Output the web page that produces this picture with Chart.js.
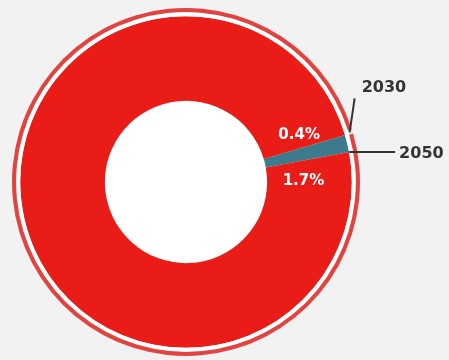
<!DOCTYPE html>
<html>
<head>
<meta charset="utf-8">
<script src="https://cdn.jsdelivr.net/npm/chart.js@4/dist/chart.umd.min.js"></script>
<style>
    html, body { margin: 0; padding: 0; background: #f2f2f2; }
    #wrap { width: 449px; height: 360px; position: relative; }
</style>
</head>
<body>
<div id="wrap"><canvas id="chart"></canvas></div>
<script>
// share of each year, rest of the ring is the remainder
const years = ["2030", "2050"];
const share2030 = [0.4, 99.6];
const share2050 = [1.7, 98.3];
const percentLabels = ["0.4%", "1.7%"];

const RED = "#ea1c17";
const TEAL = "#3c7b8e";
const PALE = "#d3eaf1";

// white hole + year/percent labels
const ringLabels = {
    id: "ringLabels",
    beforeDatasetsDraw(chart) {
        const arc = chart.getDatasetMeta(2).data[0];
        const ctx = chart.ctx;
        ctx.save();
        ctx.fillStyle = "#ffffff";
        ctx.beginPath();
        ctx.arc(arc.x, arc.y, arc.innerRadius, 0, Math.PI * 2);
        ctx.fill();
        ctx.restore();
    },
    afterDatasetsDraw(chart) {
        const ctx = chart.ctx;
        const outer = chart.getDatasetMeta(0).data[0];
        const inner = chart.getDatasetMeta(2).data[0];
        const cx = inner.x, cy = inner.y;
        const midR = (inner.innerRadius + inner.outerRadius) / 2;
        const deg = Math.PI / 180;

        ctx.save();
        ctx.font = "bold 15px 'DejaVu Sans'";
        ctx.fillStyle = "#ffffff";
        ctx.textAlign = "center";
        ctx.textBaseline = "middle";
        let a = inner.startAngle - 6 * deg;
        ctx.fillText(percentLabels[0], cx + (midR - 1) * Math.cos(a), cy + (midR - 1) * Math.sin(a));
        a = inner.endAngle + 10 * deg;
        ctx.fillText(percentLabels[1], cx + (midR - 6) * Math.cos(a), cy + (midR - 6) * Math.sin(a));

        // leader lines
        ctx.strokeStyle = "#333333";
        ctx.lineWidth = 2;
        const oa = (outer.startAngle + outer.endAngle) / 2;
        const ox = cx + (outer.outerRadius - 3) * Math.cos(oa);
        const oy = cy + (outer.outerRadius - 3) * Math.sin(oa);
        ctx.beginPath();
        ctx.moveTo(ox, oy);
        ctx.lineTo(ox + 5, oy - 34);
        ctx.stroke();

        const ix = cx + inner.outerRadius * Math.cos(inner.endAngle);
        const iy = cy + inner.outerRadius * Math.sin(inner.endAngle);
        ctx.beginPath();
        ctx.moveTo(ix, iy);
        ctx.lineTo(ix + 46, iy);
        ctx.stroke();

        ctx.font = "bold 16px 'DejaVu Sans'";
        ctx.fillStyle = "#333333";
        ctx.textAlign = "left";
        ctx.fillText(years[0], ox + 12, oy - 45);
        ctx.fillText(years[1], ix + 50, iy + 2);
        ctx.restore();
    }
};

new Chart(document.getElementById("chart"), {
    type: "doughnut",
    data: {
        labels: ["", ""],
        datasets: [
            {
                label: years[0],
                data: share2030,
                backgroundColor: [PALE, "#e2433e"],
                borderWidth: 0,
                weight: 4,
                rotation: 72.4
            },
            {
                // thin white gap between the two rings
                label: "",
                data: [1],
                backgroundColor: ["#ffffff"],
                borderWidth: 0,
                weight: 4
            },
            {
                label: years[1],
                data: share2050,
                backgroundColor: [TEAL, RED],
                borderWidth: 0,
                weight: 83,
                rotation: 73.5
            }
        ]
    },
    options: {
        responsive: true,
        maintainAspectRatio: false,
        animation: false,
        radius: 174,
        cutout: 83,
        hoverOffset: 0,
        layout: { padding: { left: 0, right: 77, top: 4, bottom: 0 } },
        plugins: {
            legend: { display: false },
            tooltip: { enabled: false }
        },
        events: []
    },
    plugins: [ringLabels]
});
</script>
</body>
</html>
